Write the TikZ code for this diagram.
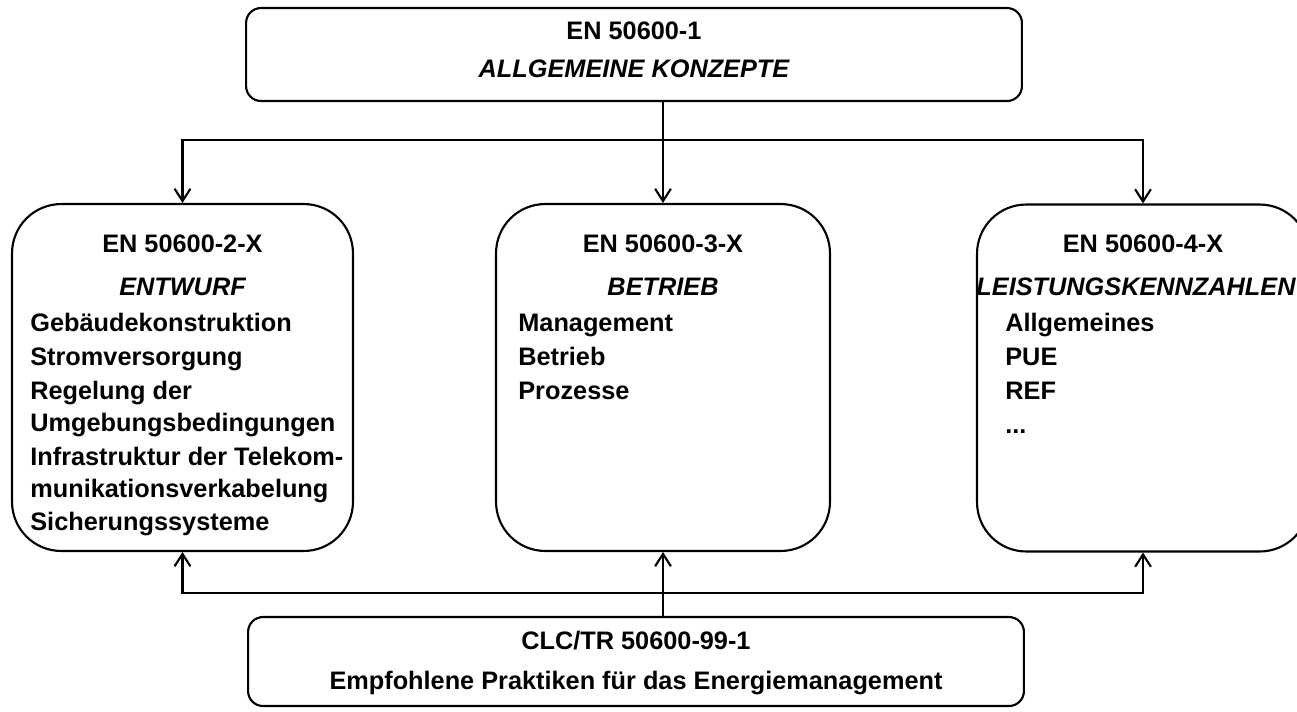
\documentclass[tikz,border=0pt]{standalone}
\usepackage{fontspec}
\setmainfont{Liberation Sans}
\usetikzlibrary{arrows.meta}
\newcommand{\figfont}{\fontsize{14.4}{17}\selectfont\bfseries}
\tikzset{
  font=\figfont,
  box/.style={draw=black, line width=1.2pt, inner sep=0pt},
  doc/.style={box, rounded corners=8.5pt, minimum width=15.52cm},
  part/.style={box, rounded corners=28pt, minimum height=6.94cm},
  head/.style={anchor=base, inner sep=0pt},
  sub/.style={head, font=\figfont\itshape},
  item/.style={anchor=base west, inner sep=0pt},
  conn/.style={-{Straight Barb[length=7pt, width=9pt]}, draw=black, line width=1.2pt},
}

\begin{document}
\begin{tikzpicture}[x=0.02cm, y=-0.02cm]
\path[use as bounding box, fill=white] (0,0) rectangle (1297,711);
\clip (0,0) rectangle (1297,711);

% general concepts
\node[doc, minimum height=1.86cm] (allg) at (634,54.5) {};
\node[head] (allgno) at (634,39) {EN 50600-1};
\node[sub] (allgtit) at (634,77) {ALLGEMEINE KONZEPTE};

% the three parts
\node[part, minimum width=6.82cm] (entwurf) at (182.5,377.5) {};
\node[head] (entno) at (182.5,252) {EN 50600-2-X};
\node[sub] (enttit) at (182.5,295) {ENTWURF};
\foreach \t/\y [count=\i] in {Gebäudekonstruktion/331, Stromversorgung/365, Regelung der/399,
    Umgebungsbedingungen/431, Infrastruktur der Telekom-/465, munikationsverkabelung/497, Sicherungssysteme/530}
  {\node[item] (ent\i) at (30,\y) {\t};}

\node[part, minimum width=6.68cm] (betrieb) at (663,377.5) {};
\node[head] (betno) at (663,252) {EN 50600-3-X};
\node[sub] (bettit) at (663,295) {BETRIEB};
\foreach \t/\y [count=\i] in {Management/331, Betrieb/365, Prozesse/399}
  {\node[item] (bet\i) at (518,\y) {\t};}

\node[part, minimum width=6.64cm] (kennz) at (1143,378) {};
\node[head] (kenno) at (1143,252) {EN 50600-4-X};
\node[sub] (kentit) at (1136,295) {LEISTUNGSKENNZAHLEN};
\foreach \t/\y [count=\i] in {Allgemeines/331, PUE/365, REF/399}
  {\node[item] (ken\i) at (1005,\y) {\t};}
\node[item] (ken4) at (1005,433) {...};

% recommended practices
\node[doc, minimum height=1.78cm] (clc) at (636,661.5) {};
\node[head] (clcno) at (636,649) {CLC/TR 50600-99-1};
\node[head] (clctit) at (636,689) {Empfohlene Praktiken für das Energiemanagement};

% connectors
\coordinate (bustop) at (663,140);
\coordinate (busbot) at (663,593);
\draw[conn] (allg.south -| betrieb.north) -- (betrieb.north);
\foreach \b in {entwurf,kennz} {\draw[conn] (bustop) -| (\b.north);}
\draw[conn] (clc.north -| betrieb.south) -- (betrieb.south);
\foreach \b in {entwurf,kennz} {\draw[conn] (busbot) -| (\b.south);}
\end{tikzpicture}
\end{document}
